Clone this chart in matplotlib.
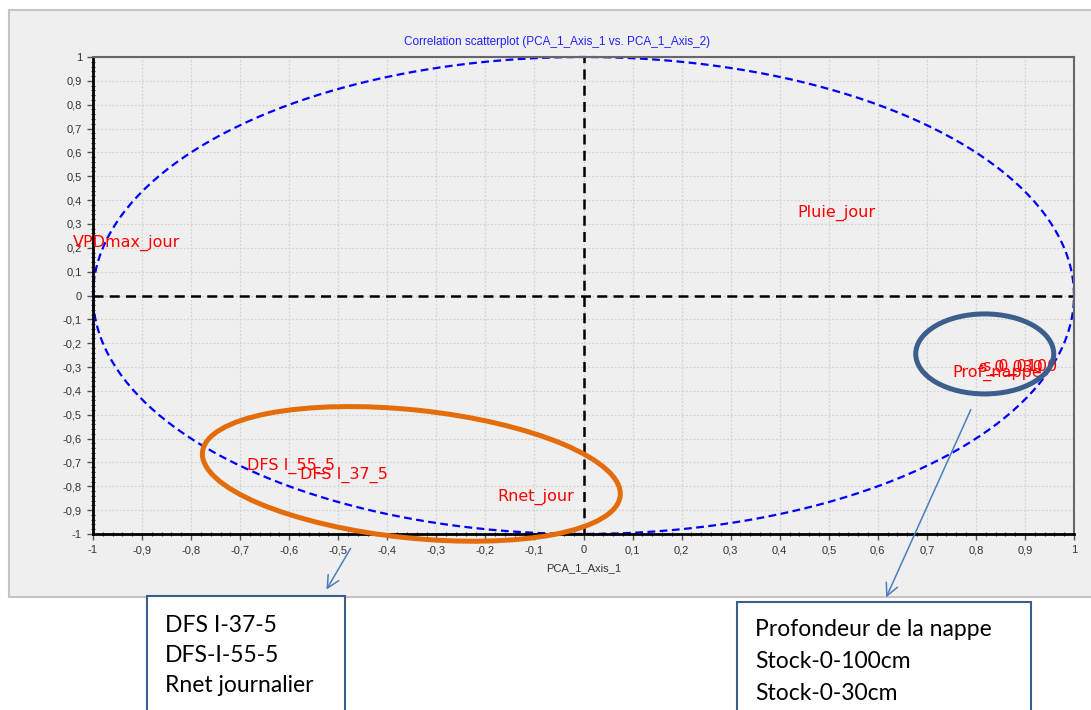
import numpy as np
import matplotlib.pyplot as plt
import matplotlib.patches as mpatches
import matplotlib.transforms as mtransforms
from matplotlib.ticker import MultipleLocator, FuncFormatter

# variables (position des etiquettes sur le cercle des correlations)
var_names = ['VPDmax_jour', 'Pluie_jour', 'Prof_nappe', 's_0_030', 's_0_0100',
             'DFS I_55_5', 'DFS I_37_5', 'Rnet_jour']
axis_1 = [-1.041, 0.437, 0.753, 0.804, 0.812, -0.686, -0.578, -0.176]
axis_2 = [0.220, 0.346, -0.325, -0.304, -0.300, -0.715, -0.753, -0.845]

box1_lines = ['DFS I-37-5', 'DFS-I-55-5', 'Rnet journalier']
box2_lines = ['Profondeur de la nappe', 'Stock-0-100cm', 'Stock-0-30cm']

W, H = 1091, 710
fig = plt.figure(figsize=(W / 100, H / 100), dpi=100)
fig.patch.set_facecolor('white')

# panneau gris de Tanagra
panel = mpatches.Rectangle((9 / W, 1 - 597 / H), 1 - 9 / W + 0.01, (597 - 10) / H,
                           transform=fig.transFigure, facecolor='#efefef',
                           edgecolor='#c4c4c4', linewidth=1.5, zorder=-5)
fig.patches.append(panel)

ax = fig.add_axes([93 / W, 1 - 534 / H, (1074 - 93) / W, (534 - 57) / H])
ax.set_facecolor('none')
ax.set_xlim(-1, 1)
ax.set_ylim(-1, 1)

ax.xaxis.set_major_locator(MultipleLocator(0.1))
ax.yaxis.set_major_locator(MultipleLocator(0.1))
ax.xaxis.set_minor_locator(MultipleLocator(0.02))
ax.yaxis.set_minor_locator(MultipleLocator(0.02))
fmt = FuncFormatter(lambda v, p: ('%g' % round(v, 1)).replace('.', ','))
ax.xaxis.set_major_formatter(fmt)
ax.yaxis.set_major_formatter(fmt)
ax.tick_params(which='major', labelsize=8, labelcolor='#333333', length=4,
               width=1, color='#555555', direction='out', pad=4)
ax.tick_params(which='minor', length=2.5, width=0.8, color='#333333', direction='inout')
for lab in ax.get_xticklabels() + ax.get_yticklabels():
    lab.set_family('Liberation Sans')

ax.grid(True, which='major', color='#d2d2d2', linestyle=(0, (1.5, 1.5)), linewidth=0.9)
ax.set_axisbelow(True)

for side in ['left', 'bottom']:
    ax.spines[side].set_linewidth(2)
    ax.spines[side].set_color('black')
for side in ['top', 'right']:
    ax.spines[side].set_linewidth(1.5)
    ax.spines[side].set_color('#666666')
    ax.spines[side].set_linestyle((0, (1, 1)))

ax.axhline(0, color='black', linestyle=(0, (4, 2.5)), linewidth=1.8)
ax.axvline(0, color='black', linestyle=(0, (4, 2.5)), linewidth=1.8)

theta = np.linspace(0, 2 * np.pi, 400)
ax.plot(np.cos(theta), np.sin(theta), color='#0000ff', linestyle=(0, (3.5, 2)),
        linewidth=1.6, clip_on=False)

for name, x, y in zip(var_names, axis_1, axis_2):
    ax.text(x, y, name, color='red', fontsize=11.5, family='DejaVu Sans',
            ha='left', va='center', clip_on=False)

ax.set_xlabel('PCA_1_Axis_1', fontsize=8, color='#333333', family='Liberation Sans',
              labelpad=6)
fig.text(557 / W, 1 - 42 / H, 'Correlation scatterplot (PCA_1_Axis_1 vs. PCA_1_Axis_2)',
         color='#2020ff', fontsize=8.5, family='Liberation Sans', ha='center', va='center')


# ellipses de mise en evidence (taille en pixels, centre en coordonnees donnees)
def ellipse(cx, cy, w, h, ang, col):
    tr = mtransforms.IdentityTransform() + mtransforms.ScaledTranslation(cx, cy, ax.transData)
    e = mpatches.Ellipse((0, 0), w, h, angle=ang, transform=tr, fill=False,
                         edgecolor=col, linewidth=3.6, zorder=6, clip_on=False)
    ax.add_artist(e)


ellipse(-0.351, -0.748, 420, 128, -6, '#e46c0a')
ellipse(0.818, -0.245, 138, 80, 0, '#3b5e8c')

# fleches
arrow_kw = dict(arrowstyle='->', color='#4a7ebb', linewidth=1.1, mutation_scale=22)
fig.patches.append(mpatches.FancyArrowPatch((352, H - 546), (325, H - 592),
                                            transform=mtransforms.IdentityTransform(),
                                            zorder=7, **arrow_kw))
fig.patches.append(mpatches.FancyArrowPatch((972, H - 407), (885, H - 600),
                                            transform=mtransforms.IdentityTransform(),
                                            zorder=7, **arrow_kw))

# encadres de texte
for (x0, x1, y0), lines, base in [((147, 345, 596), box1_lines, [632, 662, 692]),
                                   ((737, 1031, 602), box2_lines, [636, 668, 700])]:
    fig.patches.append(mpatches.Rectangle((x0 / W, 1 - 715 / H), (x1 - x0) / W, (715 - y0) / H,
                                          transform=fig.transFigure, facecolor='white',
                                          edgecolor='#3b5e8c', linewidth=1.5, zorder=3))
    for ln, b in zip(lines, base):
        fig.text((x0 + 18) / W, 1 - b / H, ln, fontsize=16.5, family='Lato',
                 color='black', ha='left', va='baseline', zorder=4)

fig.savefig('out.png', dpi=100)
